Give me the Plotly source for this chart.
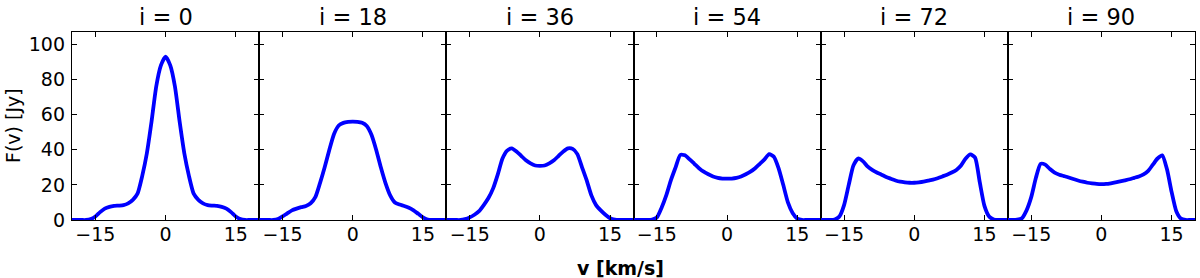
import plotly.graph_objects as go
from plotly.subplots import make_subplots

# ---- data -------------------------------------------------------------
velocity = list(range(-20, 21))  # km/s

titles = ["i = 0", "i = 18", "i = 36", "i = 54", "i = 72", "i = 90"]

flux_i0 = [0, 0, 0, 0, 0.5, 2, 4.5, 6.5, 7.5, 8, 8.2, 8.5, 9.5, 11.5, 15, 25, 38, 56, 76, 88,
           93,
           88, 76, 56, 38, 25, 15, 11.5, 9.5, 8.5, 8.2, 8, 7.5, 6.5, 4.5, 2, 0.5, 0, 0, 0, 0]

flux_i18 = [0, 0, 0, 0, 0.5, 2, 3.8, 5.5, 6.5, 7.3, 8, 9.5, 13, 21, 30, 40, 49, 53.8, 55.3, 55.8,
            56,
            55.8, 55.3, 53.5, 48.5, 40, 30, 21, 14, 10, 8.8, 8, 7, 5.5, 3.5, 1.5, 0.3, 0, 0, 0, 0]

flux_i36 = [0, 0, 0, 0, 0.5, 1.5, 3, 5, 8.5, 12.5, 18, 26, 35, 39.5, 40.8, 39, 36.5, 34, 32.2, 31,
            30.8,
            31, 32.2, 34, 36.5, 39, 40.8, 40.5, 37.5, 30, 22.5, 14, 8.5, 5.5, 3, 1, 0.2, 0, 0, 0, 0]

flux_i54 = [0, 0, 0, 0, 0.3, 1.5, 7, 14, 22.7, 30, 37, 36.8, 34.5, 32, 29.5, 27.5, 26, 24.8, 24, 23.6,
            23.5,
            23.6, 24, 24.8, 26, 27.5, 29.5, 32, 34.5, 37.5, 36, 29.5, 20, 10, 4, 0.8, 0, 0, 0, 0, 0]

flux_i72 = [0, 0, 0, 0.3, 2, 8.5, 20, 31, 35, 33.5, 30.5, 28.5, 27, 25.8, 24.5, 23.5, 22.5, 21.8, 21.4, 21.2,
            21.2,
            21.4, 21.8, 22.4, 23, 23.8, 24.8, 25.8, 27, 28.5, 31, 35, 37.3, 35.5, 21.5, 8, 2, 0.3, 0, 0, 0]

flux_i90 = [0, 0, 0.2, 1, 5.5, 13, 24, 32, 31.5, 29, 27, 25.8, 25, 24.2, 23.3, 22.5, 21.8, 21.2, 20.8, 20.5,
            20.4,
            20.5, 20.9, 21.4, 22, 22.6, 23.2, 24, 24.8, 26, 28, 31.5, 35, 36.8, 29, 16, 5, 0.8, 0, 0, 0]

series = [flux_i0, flux_i18, flux_i36, flux_i54, flux_i72, flux_i90]

x_tickvals = [-15, 0, 15]
y_tickvals = [0, 20, 40, 60, 80, 100]
x_range = [-20, 20]
y_range = [0, 107]

# ---- figure -----------------------------------------------------------
W, H = 1200, 278
ML, MR, MT, MB = 72, 5, 32, 58
FONT = "DejaVu Sans"

fig = make_subplots(rows=1, cols=6, shared_yaxes=True, horizontal_spacing=0)

for k, ys in enumerate(series):
    fig.add_trace(
        go.Scatter(x=velocity, y=ys, mode="lines",
                   line=dict(color="#0000ff", width=3.8, shape="spline", smoothing=0.6),
                   showlegend=False, hoverinfo="skip", cliponaxis=True),
        row=1, col=k + 1,
    )
    fig.update_xaxes(range=x_range, tickvals=x_tickvals, ticks="inside", ticklen=5,
                     tickcolor="black", mirror="ticks", showline=True, linecolor="black",
                     linewidth=1.3, showgrid=False, zeroline=False,
                     ticklabelstandoff=-3,
                     tickfont=dict(family=FONT, size=19, color="black"),
                     row=1, col=k + 1)
    fig.update_yaxes(range=y_range, tickvals=y_tickvals, ticks="inside", ticklen=5,
                     tickcolor="black", mirror="ticks", showline=True, linecolor="black",
                     linewidth=1.3, showgrid=False, zeroline=False,
                     showticklabels=(k == 0), ticklabelstandoff=2,
                     tickfont=dict(family=FONT, size=19, color="black"),
                     row=1, col=k + 1)

plot_h = H - MT - MB
plot_w = W - ML - MR

annotations = []
for k, t in enumerate(titles):
    xa = fig.layout["xaxis" if k == 0 else f"xaxis{k+1}"]
    cx = (xa.domain[0] + xa.domain[1]) / 2
    annotations.append(dict(text=t, x=cx, y=(H - MB - 17) / plot_h, xref="paper", yref="paper",
                            xanchor="center", yanchor="middle", showarrow=False,
                            font=dict(family=FONT, size=22.5, color="black")))

annotations.append(dict(text="<b>v [km/s]</b>", x=(620 - ML) / plot_w, y=(H - MB - 268) / plot_h,
                        xref="paper", yref="paper", xanchor="center", yanchor="middle",
                        showarrow=False, font=dict(family=FONT, size=19, color="black")))
annotations.append(dict(text="F(v) [Jy]", x=(13 - ML) / plot_w, y=0.5, textangle=-90,
                        xref="paper", yref="paper", xanchor="center", yanchor="middle",
                        showarrow=False, font=dict(family=FONT, size=19, color="black")))

fig.update_layout(width=W, height=H, margin=dict(l=ML, r=MR, t=MT, b=MB),
                  paper_bgcolor="white", plot_bgcolor="white",
                  annotations=annotations)

fig.write_html("out.html", config={"displayModeBar": False},
               post_script="document.body.style.margin='0';document.body.style.overflow='hidden';")
